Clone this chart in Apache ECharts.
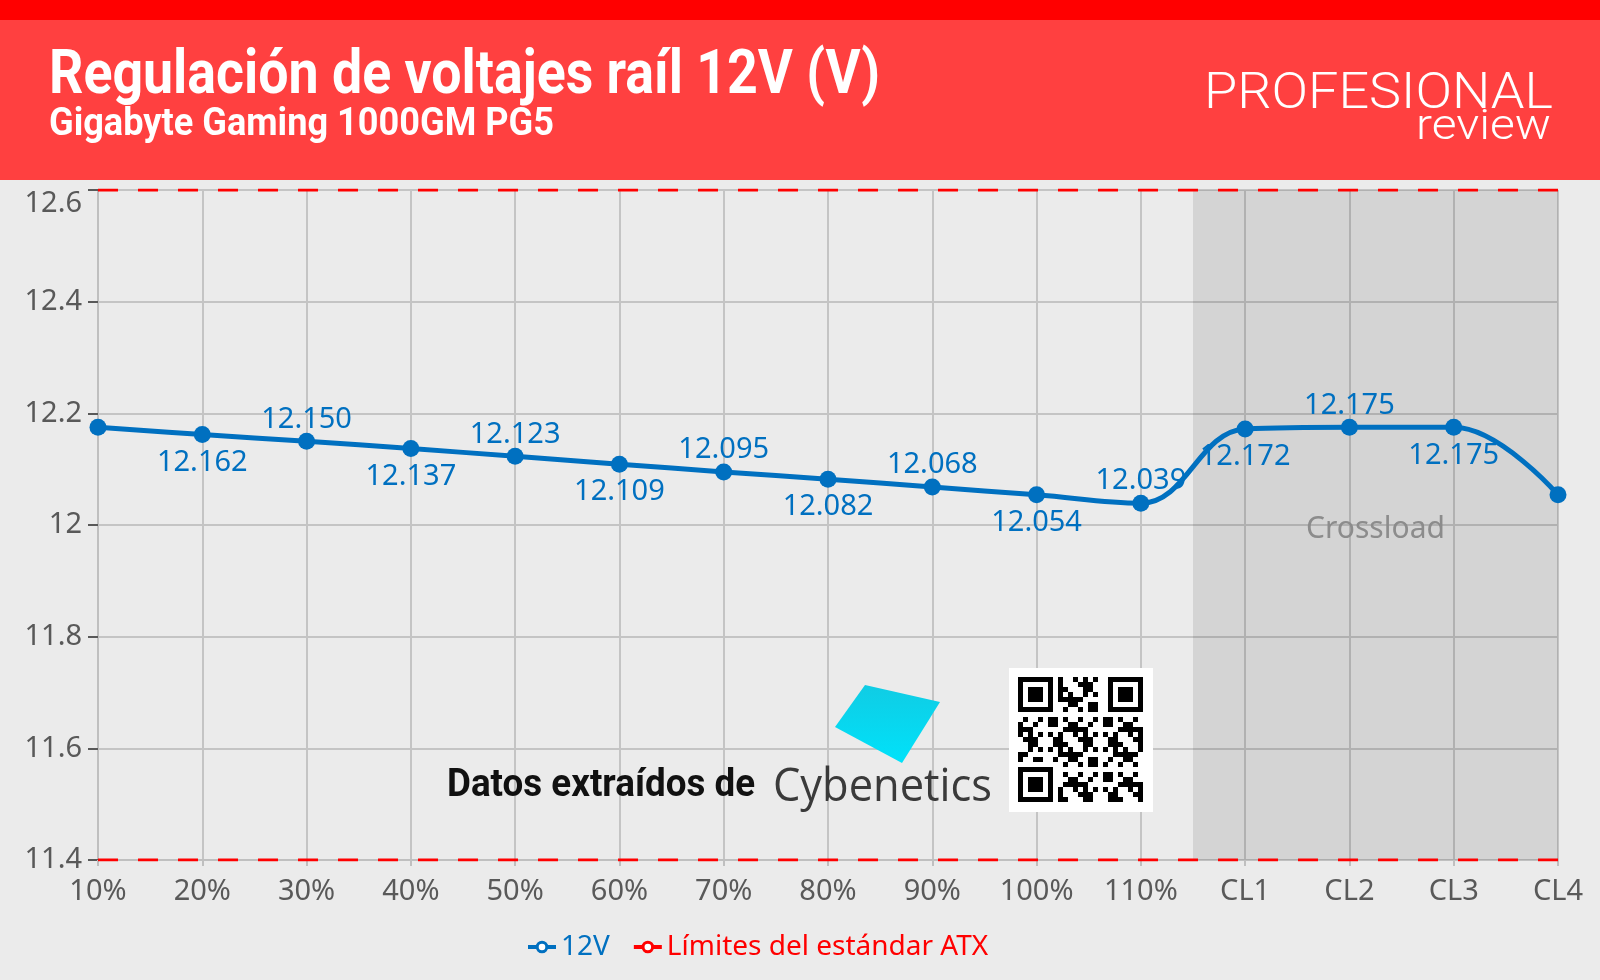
<!DOCTYPE html>
<html><head><meta charset="utf-8">
<script src="https://cdn.jsdelivr.net/npm/echarts@6/dist/echarts.min.js"></script>
<style>html,body{margin:0;padding:0;background:#ebebeb}#c{width:1600px;height:980px}</style>
</head><body><div id="c"></div>
<script>
// ---------- data ----------
const categories = ['10%','20%','30%','40%','50%','60%','70%','80%','90%','100%','110%','CL1','CL2','CL3','CL4'];
const volts12V = [12.175,12.162,12.150,12.137,12.123,12.109,12.095,12.082,12.068,12.054,12.039,12.172,12.175,12.175,12.054];
const atxMax = 12.6;
const atxMin = 11.4;
const yTickInterval = 0.2;
const crossloadRange = [10.5, 14];
const crossloadLabel = 'Crossload';
const seriesNames = ['12V', 'Límites del estándar ATX'];
const titleText = 'Regulación de voltajes raíl 12V (V)';
const subtitleText = 'Gigabyte Gaming 1000GM PG5';

// ---------- helpers ----------
const BLUE = '#0070c0', RED = '#ff0000';
const mctx = document.createElement('canvas').getContext('2d');
function fit(text, font, w) { mctx.font = font; return w / mctx.measureText(text).width; }
function fitText(text, font, x, y, w, fill, align) {
  return { type: 'text', x: x, y: y, scaleX: fit(text, font, w), z: 100,
    style: { text: text, font: font, fill: fill, align: align || 'left', verticalAlign: 'middle' } };
}
const last = volts12V.length - 1;
const data12V = volts12V.map((v, i) => ({
  value: v,
  label: { show: i > 0 && i < last, position: i % 2 ? 'bottom' : 'top', distance: i % 2 ? 5 : -1 }
}));

// pseudo QR decoration
const qr = [];
const qx = 1009, qy = 668, qs = 144, mod = 5, n = 25, off = 9;
qr.push({ type: 'rect', shape: { x: qx, y: qy, width: qs, height: qs }, style: { fill: '#fff' }, z: 90 });
function finder(cx, cy) {
  qr.push({ type: 'rect', shape: { x: cx, y: cy, width: 7 * mod, height: 7 * mod }, style: { fill: '#000' }, z: 91 });
  qr.push({ type: 'rect', shape: { x: cx + mod, y: cy + mod, width: 5 * mod, height: 5 * mod }, style: { fill: '#fff' }, z: 92 });
  qr.push({ type: 'rect', shape: { x: cx + 2 * mod, y: cy + 2 * mod, width: 3 * mod, height: 3 * mod }, style: { fill: '#000' }, z: 93 });
}
for (let r = 0; r < n; r++) for (let c = 0; c < n; c++) {
  const inF = (r < 8 && c < 8) || (r < 8 && c > n - 9) || (r > n - 9 && c < 8);
  if (inF) continue;
  if (((r * 31 + c * 17 + r * c * 7) % 11) < 5)
    qr.push({ type: 'rect', shape: { x: qx + off + c * mod, y: qy + off + r * mod, width: mod, height: mod }, style: { fill: '#000' }, z: 91 });
}
finder(qx + off, qy + off); finder(qx + off + (n - 7) * mod, qy + off); finder(qx + off, qy + off + (n - 7) * mod);

const legendLine = (c) => ({ color: c, width: 4, type: 'solid' });
const chart = echarts.init(document.getElementById('c'));
chart.setOption({
  backgroundColor: '#ebebeb',
  animation: false,
  textStyle: { fontFamily: 'Noto Sans' },
  grid: { left: 98, right: 42, top: 190, bottom: 120 },
  xAxis: [{
    type: 'category', data: categories, boundaryGap: false,
    axisLine: { lineStyle: { color: '#bfbfbf', width: 2 } },
    axisTick: { show: true, length: 6, lineStyle: { color: '#bfbfbf', width: 2 } },
    axisLabel: { color: '#595959', fontSize: 29, margin: 17 },
    splitLine: { show: true, lineStyle: { color: '#c4c4c4', width: 2 } }
  }, {
    type: 'value', min: 0, max: categories.length - 1, show: false
  }],
  yAxis: {
    type: 'value', min: atxMin, max: atxMax, interval: yTickInterval,
    axisLine: { show: true, lineStyle: { color: '#bfbfbf', width: 2 } },
    axisTick: { show: true, length: 10, lineStyle: { color: '#595959', width: 2 } },
    axisLabel: {
      color: '#595959', fontSize: 29, margin: 16,
      formatter: v => Math.abs(v - atxMax) < 1e-9 ? '{top|' + v + '}' : String(+v.toFixed(1)),
      rich: { top: { color: '#595959', fontSize: 29, padding: [28, 0, 0, 0] } }
    },
    splitLine: { lineStyle: { color: '#c4c4c4', width: 2 } }
  },
  legend: {
    bottom: 14, left: 521, itemWidth: 28, itemHeight: 12, itemGap: 22,
    textStyle: { fontSize: 28, fontFamily: 'Noto Sans' },
    lineStyle: { type: 'solid', width: 4 },
    data: [
      { name: seriesNames[0], textStyle: { color: BLUE }, itemStyle: { color: '#fff', borderColor: BLUE, borderWidth: 3 }, lineStyle: legendLine(BLUE) },
      { name: seriesNames[1], textStyle: { color: RED }, itemStyle: { color: '#fff', borderColor: RED, borderWidth: 3 }, lineStyle: legendLine(RED) }
    ]
  },
  series: [
    {
      name: crossloadLabel, type: 'line', xAxisIndex: 1, data: [], silent: true,
      markArea: {
        silent: true,
        itemStyle: { color: 'rgba(0,0,0,0.095)' },
        label: { show: true, position: 'inside', color: '#8c8c8c', fontSize: 30, fontFamily: 'Noto Sans', offset: [0, 4] },
        data: [[{ name: crossloadLabel, xAxis: crossloadRange[0] }, { xAxis: crossloadRange[1] }]]
      }
    },
    {
      name: seriesNames[1], type: 'line', data: categories.map(() => atxMax),
      showSymbol: false, symbol: 'circle', color: RED,
      lineStyle: { color: RED, width: 3, type: [20, 20] }
    },
    {
      name: seriesNames[1], type: 'line', data: categories.map(() => atxMin),
      showSymbol: false, symbol: 'circle', color: RED,
      lineStyle: { color: RED, width: 3, type: [20, 20] }
    },
    {
      name: seriesNames[0], type: 'line', data: data12V, smooth: 0.4,
      symbol: 'circle', symbolSize: 17, color: BLUE,
      lineStyle: { color: BLUE, width: 5 },
      itemStyle: { color: BLUE },
      label: { color: BLUE, fontSize: 29, fontFamily: 'Noto Sans', formatter: p => p.value.toFixed(3) },
      z: 5
    }
  ],
  graphic: [
    { type: 'rect', shape: { x: 0, y: 0, width: 1600, height: 180 }, style: { fill: '#ff4040' }, z: 50 },
    { type: 'rect', shape: { x: 0, y: 0, width: 1600, height: 20 }, style: { fill: '#ff0000' }, z: 51 },
    fitText(titleText, 'bold 62px Roboto', 49, 77, 831, '#fff'),
    fitText(subtitleText, 'bold 39px Roboto', 49, 125, 505, '#fff'),
    fitText('PROFESIONAL', '300 50px Roboto', 1204, 95, 349, '#fff'),
    fitText('review', '300 43px Roboto', 1551, 128, 135, '#fff', 'right'),
    { type: 'polygon', z: 95, shape: { points: [[865, 685], [940, 702], [902, 763], [835, 727]] },
      style: { fill: new echarts.graphic.LinearGradient(0, 0, 0, 1, [{ offset: 0, color: '#10cce4' }, { offset: 1, color: '#00e2fa' }]) } },
    fitText('Datos extraídos de', 'bold 38px Roboto', 447, 786, 308, '#111'),
    fitText('Cybenetics', '400 46px "Open Sans"', 773, 788, 219, '#3a3a3a'),
    ...qr
  ]
});
</script>
</body></html>
